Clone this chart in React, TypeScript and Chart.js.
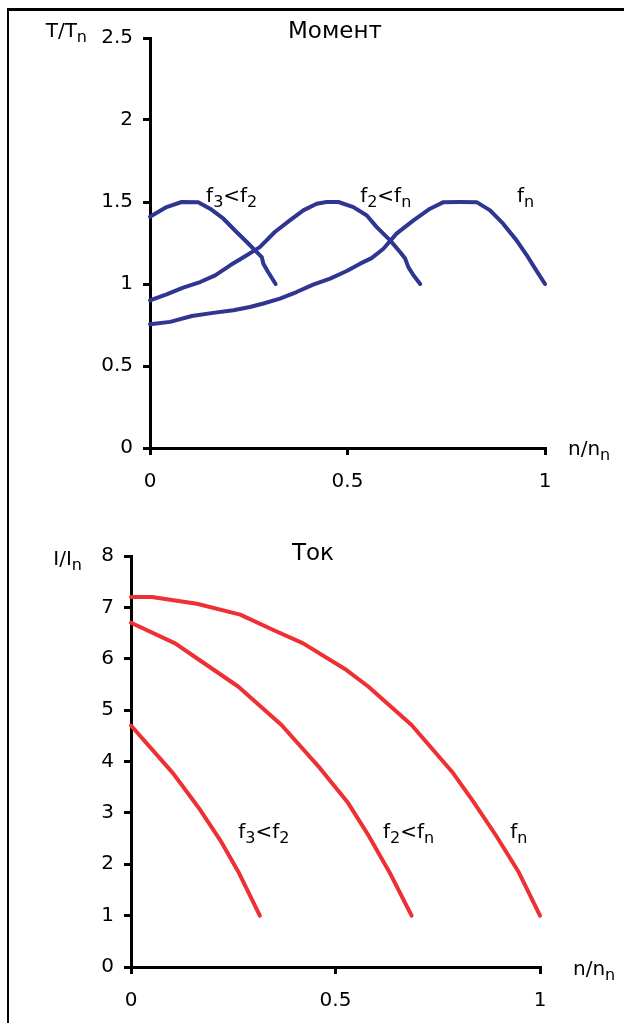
import React, { useEffect, useRef } from 'react';
import { Chart, registerables } from 'chart.js';

Chart.register(...registerables);

const FONT = '"DejaVu Sans", "Liberation Sans", sans-serif';

// ---------- Torque chart (Момент) ----------
const torqueXTicks = [0, 0.5, 1];
const torqueYTicks = [0, 0.5, 1, 1.5, 2, 2.5];

const torqueF3X = [0, 0.042, 0.08, 0.122, 0.152, 0.186, 0.219, 0.245, 0.266, 0.283, 0.287, 0.299, 0.318];
const torqueF3Y = [1.41, 1.469, 1.5, 1.499, 1.459, 1.398, 1.317, 1.256, 1.205, 1.164, 1.124, 1.073, 1.0];

const torqueF2X = [0, 0.042, 0.084, 0.127, 0.165, 0.203, 0.245, 0.278, 0.316, 0.354, 0.388, 0.422, 0.447, 0.477, 0.515, 0.549, 0.574, 0.608, 0.633, 0.646, 0.654, 0.667, 0.684];
const torqueF2Y = [0.9, 0.937, 0.978, 1.012, 1.053, 1.114, 1.175, 1.225, 1.317, 1.388, 1.449, 1.489, 1.5, 1.5, 1.469, 1.418, 1.347, 1.266, 1.195, 1.155, 1.103, 1.053, 1.0];

const torqueFnX = [0, 0.051, 0.106, 0.16, 0.211, 0.253, 0.287, 0.329, 0.371, 0.413, 0.456, 0.498, 0.532, 0.561, 0.591, 0.624, 0.667, 0.709, 0.743, 0.785, 0.827, 0.861, 0.894, 0.928, 0.954, 0.975, 1.0];
const torqueFnY = [0.755, 0.769, 0.805, 0.824, 0.84, 0.86, 0.881, 0.911, 0.951, 0.996, 1.033, 1.079, 1.124, 1.158, 1.215, 1.307, 1.388, 1.459, 1.499, 1.5, 1.499, 1.449, 1.368, 1.266, 1.175, 1.094, 1.0];

// ---------- Current chart (Ток) ----------
const currentXTicks = [0, 0.5, 1];
const currentYTicks = [0, 1, 2, 3, 4, 5, 6, 7, 8];

const currentF3X = [0, 0.103, 0.169, 0.218, 0.262, 0.315];
const currentF3Y = [4.7, 3.77, 3.06, 2.47, 1.86, 1.0];

const currentF2X = [0, 0.108, 0.161, 0.262, 0.368, 0.462, 0.531, 0.58, 0.633, 0.686];
const currentF2Y = [6.7, 6.3, 6.01, 5.46, 4.71, 3.87, 3.19, 2.57, 1.83, 1.0];

const currentFnX = [0, 0.051, 0.161, 0.267, 0.348, 0.421, 0.527, 0.58, 0.686, 0.788, 0.837, 0.894, 0.947, 1.0];
const currentFnY = [7.2, 7.2, 7.07, 6.86, 6.56, 6.3, 5.78, 5.46, 4.71, 3.77, 3.22, 2.54, 1.86, 1.0];

// ---------- Text ----------
type Part = { t: string; sub?: boolean };
const LBL_F3F2: Part[] = [{ t: 'f' }, { t: '3', sub: true }, { t: '<f' }, { t: '2', sub: true }];
const LBL_F2FN: Part[] = [{ t: 'f' }, { t: '2', sub: true }, { t: '<f' }, { t: 'n', sub: true }];
const LBL_FN: Part[] = [{ t: 'f' }, { t: 'n', sub: true }];
const LBL_T: Part[] = [{ t: 'T/T' }, { t: 'n', sub: true }];
const LBL_I: Part[] = [{ t: 'I/I' }, { t: 'n', sub: true }];
const LBL_N: Part[] = [{ t: 'n/n' }, { t: 'n', sub: true }];
const TITLE_TORQUE: Part[] = [{ t: 'Момент' }];
const TITLE_CURRENT: Part[] = [{ t: 'Ток' }];

const BLUE = '#2f3591';
const RED = '#ee2f33';

function zip(xs: number[], ys: number[]) {
  return xs.map((x, i) => ({ x, y: ys[i] }));
}

function drawRich(ctx: CanvasRenderingContext2D, x: number, y: number, parts: Part[], size: number, align: 'left' | 'right') {
  const subSize = Math.round(size * 0.78);
  const mainFont = `${size}px ${FONT}`;
  const subFont = `${subSize}px ${FONT}`;
  let total = 0;
  const widths = parts.map((p) => {
    ctx.font = p.sub ? subFont : mainFont;
    const w = ctx.measureText(p.t).width;
    total += w;
    return w;
  });
  let cx = align === 'right' ? x - total : x;
  ctx.save();
  ctx.fillStyle = '#000';
  ctx.textAlign = 'left';
  ctx.textBaseline = 'alphabetic';
  parts.forEach((p, i) => {
    ctx.font = p.sub ? subFont : mainFont;
    ctx.fillText(p.t, cx, p.sub ? y + size * 0.27 : y);
    cx += widths[i];
  });
  ctx.restore();
}

type TextItem = {
  parts: Part[];
  size: number;
  align?: 'left' | 'right';
  vx?: number;
  vy?: number;
  ax?: 'left' | 'right';
  ay?: 'top' | 'bottom';
  dx?: number;
  dy?: number;
};

function makeTextPlugin(items: TextItem[]) {
  return {
    id: 'richText',
    afterDraw(chart: any) {
      const { ctx, chartArea, scales } = chart;
      for (const it of items) {
        let x: number;
        let y: number;
        if (it.vx !== undefined && it.vy !== undefined) {
          x = scales.x.getPixelForValue(it.vx);
          y = scales.y.getPixelForValue(it.vy);
        } else {
          x = chartArea[it.ax || 'left'] + (it.dx || 0);
          y = chartArea[it.ay || 'top'] + (it.dy || 0);
        }
        drawRich(ctx, x, y, it.parts, it.size, it.align || 'left');
      }
    },
  };
}

function axis(min: number, max: number, ticks: number[], fixed: number, horizontal: boolean) {
  return {
    type: 'linear',
    min,
    max,
    afterBuildTicks: (scale: any) => {
      scale.ticks = ticks.map((v) => ({ value: v }));
    },
    afterFit: (scale: any) => {
      if (horizontal) scale.height = fixed;
      else scale.width = fixed;
      scale.paddingTop = 0;
      scale.paddingBottom = 0;
      scale.paddingLeft = 0;
      scale.paddingRight = 0;
    },
    border: { display: true, color: '#000', width: 3 },
    grid: { display: true, drawOnChartArea: false, drawTicks: true, tickLength: 7, color: '#000', lineWidth: 3 },
    ticks: {
      color: '#000',
      font: { family: FONT, size: 20 },
      padding: horizontal ? 15 : 10,
      autoSkip: false,
      maxRotation: 0,
      callback: (v: any) => String(v),
    },
  };
}

function lineSet(xs: number[], ys: number[], color: string) {
  return {
    data: zip(xs, ys),
    borderColor: color,
    borderWidth: 4,
    pointRadius: 0,
    tension: 0,
    fill: false,
    clip: false as any,
    borderCapStyle: 'round' as const,
    borderJoinStyle: 'round' as const,
  };
}

function makeChart(
  canvas: HTMLCanvasElement,
  datasets: any[],
  xTicks: number[],
  yTicks: number[],
  yMax: number,
  yAxisWidth: number,
  xAxisHeight: number,
  padTop: number,
  padRight: number,
  items: TextItem[]
) {
  return new Chart(canvas, {
    type: 'line',
    data: { datasets },
    options: {
      responsive: false,
      animation: false,
      events: [],
      layout: { padding: { top: padTop, right: padRight, left: 0, bottom: 0 } },
      plugins: { legend: { display: false }, tooltip: { enabled: false } },
      scales: {
        x: axis(0, 1, xTicks, xAxisHeight, true) as any,
        y: axis(0, yMax, yTicks, yAxisWidth, false) as any,
      },
    },
    plugins: [makeTextPlugin(items)],
  });
}

function ChartCanvas(props: { top: number; height: number; build: (c: HTMLCanvasElement) => Chart }) {
  const ref = useRef<HTMLCanvasElement | null>(null);
  useEffect(() => {
    if (!ref.current) return;
    const ch = props.build(ref.current);
    return () => ch.destroy();
  }, []);
  return (
    <canvas
      ref={ref}
      width={624}
      height={props.height}
      style={{ position: 'absolute', left: 0, top: props.top, width: 624, height: props.height, display: 'block' }}
    />
  );
}

export default function App() {
  const buildTorque = (c: HTMLCanvasElement) =>
    makeChart(
      c,
      [lineSet(torqueF3X, torqueF3Y, BLUE), lineSet(torqueF2X, torqueF2Y, BLUE), lineSet(torqueFnX, torqueFnY, BLUE)],
      torqueXTicks,
      torqueYTicks,
      2.5,
      150,
      62,
      38,
      79,
      [
        { parts: TITLE_TORQUE, size: 23, ax: 'left', ay: 'top', dx: 138, dy: 0 },
        { parts: LBL_T, size: 20, align: 'right', ax: 'left', ay: 'top', dx: -63, dy: -1 },
        { parts: LBL_N, size: 20, ax: 'right', ay: 'bottom', dx: 23, dy: 7 },
        { parts: LBL_F3F2, size: 20, vx: 0.142, vy: 1.503 },
        { parts: LBL_F2FN, size: 20, vx: 0.532, vy: 1.503 },
        { parts: LBL_FN, size: 20, vx: 0.929, vy: 1.503 },
      ]
    );
  const buildCurrent = (c: HTMLCanvasElement) =>
    makeChart(
      c,
      [lineSet(currentF3X, currentF3Y, RED), lineSet(currentF2X, currentF2Y, RED), lineSet(currentFnX, currentFnY, RED)],
      currentXTicks,
      currentYTicks,
      8,
      131,
      56,
      46,
      84,
      [
        { parts: TITLE_CURRENT, size: 23, ax: 'left', ay: 'top', dx: 161, dy: 4 },
        { parts: LBL_I, size: 20, align: 'right', ax: 'left', ay: 'top', dx: -49, dy: 9 },
        { parts: LBL_N, size: 20, ax: 'right', ay: 'bottom', dx: 33, dy: 8 },
        { parts: LBL_F3F2, size: 20, vx: 0.262, vy: 2.51 },
        { parts: LBL_F2FN, size: 20, vx: 0.616, vy: 2.51 },
        { parts: LBL_FN, size: 20, vx: 0.927, vy: 2.51 },
      ]
    );
  return (
    <div>
      <div
        style={{
          position: 'absolute',
          left: 7,
          top: 8,
          width: 617,
          height: 1015,
          boxSizing: 'border-box',
          borderLeft: '2px solid #000',
          borderTop: '3px solid #000',
        }}
      />
      <ChartCanvas top={0} height={510} build={buildTorque} />
      <ChartCanvas top={510} height={513} build={buildCurrent} />
    </div>
  );
}
